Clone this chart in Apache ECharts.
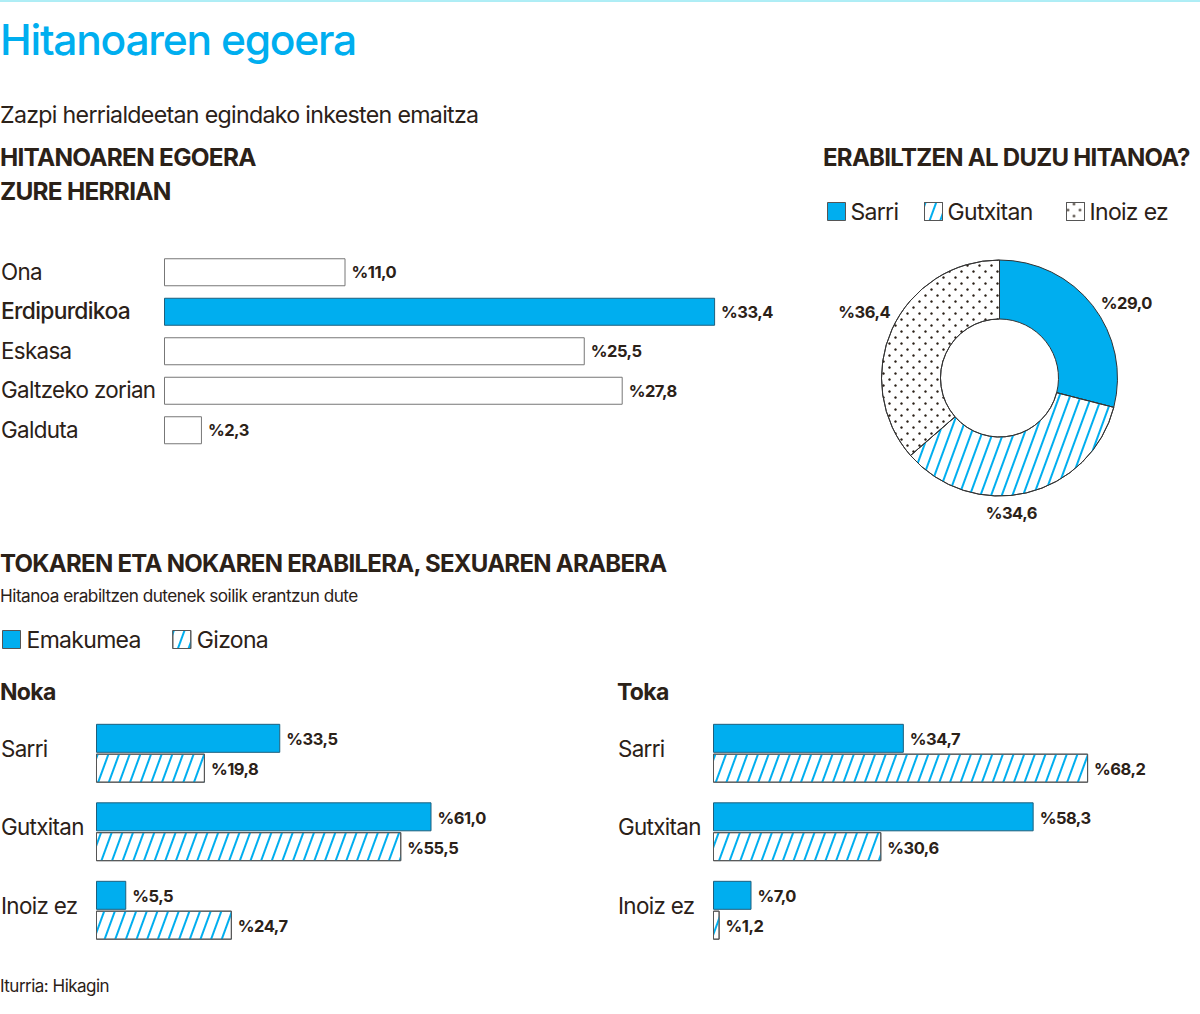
<!DOCTYPE html>
<html>
<head>
<meta charset="utf-8">
<title>Hitanoaren egoera</title>
<script src="https://cdn.jsdelivr.net/npm/echarts@6/dist/echarts.min.js"></script>
<style>
  html, body { margin: 0; padding: 0; background: #fff; }
  #main { width: 1200px; height: 1014px; }
  #main text { letter-spacing: -0.03em; }
</style>
</head>
<body>
<div id="main"></div>
<script>
// datuak
const egoeraCategories = ['Ona', 'Erdipurdikoa', 'Eskasa', 'Galtzeko zorian', 'Galduta'];
const egoeraValues = [11.0, 33.4, 25.5, 27.8, 2.3];
const egoeraHighlight = 'Erdipurdikoa';

const erabiltzenNames = ['Sarri', 'Gutxitan', 'Inoiz ez'];
const erabiltzenValues = [29.0, 34.6, 36.4];

const sexuCategories = ['Sarri', 'Gutxitan', 'Inoiz ez'];
const nokaEmakumea = [33.5, 61.0, 5.5];
const nokaGizona = [19.8, 55.5, 24.7];
const tokaEmakumea = [34.7, 58.3, 7.0];
const tokaGizona = [68.2, 30.6, 1.2];

const BLUE = '#00aeef';
const DARK = '#2b2118';
const FONT = 'Inter';

const hatch = {
    symbol: 'rect',
    symbolSize: 1,
    dashArrayX: [1, 0],
    dashArrayY: [1.3, 7.5],
    rotation: -1.22,
    color: BLUE
};
const dots = {
    symbol: 'circle',
    symbolSize: 0.85,
    dashArrayX: [[3, 9], [0, 6, 3, 3]],
    dashArrayY: [3, 3],
    rotation: 0,
    color: DARK
};

const pct = v => '%' + v.toFixed(1).replace('.', ',');

function text(t, left, top, size, weight, color) {
    return {
        text: t, left, top, padding: 0,
        textStyle: { fontFamily: FONT, fontSize: size, fontWeight: weight, color: color || DARK }
    };
}

function valueLabel(dy) {
    return {
        show: true, position: 'right', distance: 6, offset: [0, dy], formatter: p => pct(p.value),
        fontFamily: FONT, fontSize: 16.5, fontWeight: 700, color: DARK
    };
}

// rich estiloa: behealdeko padding-ak etiketa gorantz mugitzen du
function catAxis(idx, data, margin, bottomPad, boldName) {
    return {
        gridIndex: idx, type: 'category', data, inverse: true,
        axisLine: { show: false }, axisTick: { show: false },
        axisLabel: {
            align: 'left', margin, interval: 0,
            formatter: v => (v === boldName ? '{b|' : '{a|') + v + '}',
            rich: {
                a: { fontFamily: FONT, fontSize: 22.4, color: DARK, padding: [0, 0, bottomPad, 0] },
                b: { fontFamily: FONT, fontSize: 22.8, fontWeight: 500, color: DARK, padding: [0, 0, bottomPad, 0] }
            }
        }
    };
}

function valAxis(idx, max) {
    return { gridIndex: idx, type: 'value', min: 0, max, show: false, splitLine: { show: false } };
}

function sexuSeries(idx, emakumea, gizona) {
    return [{
        name: 'Emakumea', type: 'bar', xAxisIndex: idx, yAxisIndex: idx,
        data: emakumea, barWidth: 29, barGap: '3%',
        itemStyle: { color: BLUE, borderColor: '#1d5f7d', borderWidth: 1 },
        label: valueLabel(1)
    }, {
        name: 'Gizona', type: 'bar', xAxisIndex: idx, yAxisIndex: idx,
        data: gizona, barWidth: 29,
        itemStyle: { color: '#fff', borderColor: '#555', borderWidth: 1, decal: hatch },
        label: valueLabel(1)
    }];
}

const legendBase = {
    orient: 'horizontal', icon: 'rect', itemWidth: 18, itemHeight: 18, selectedMode: false, padding: 0,
    itemStyle: { borderColor: '#555', borderWidth: 1 },
    textStyle: { fontFamily: FONT, fontSize: 23, color: DARK }
};
const erabiltzenLegendLeft = [827, 924, 1066];

// svg: letra-tartea CSS bidez estutzeko
const chart = echarts.init(document.getElementById('main'), null, { renderer: 'svg' });
chart.setOption({
    animation: false,
    backgroundColor: '#fff',
    title: [
        text('Hitanoaren egoera', 0, 18, 42.6, 500, BLUE),
        text('Zazpi herrialdeetan egindako inkesten emaitza', 0, 103, 23.2, 400),
        text('HITANOAREN EGOERA', 0, 145, 24.4, 700),
        text('ZURE HERRIAN', 0, 179, 24.4, 700),
        text('ERABILTZEN AL DUZU HITANOA?', 823, 145, 24, 700),
        text('TOKAREN ETA NOKAREN ERABILERA, SEXUAREN ARABERA', 0, 551, 24, 700),
        text('Hitanoa erabiltzen dutenek soilik erantzun dute', 0, 587, 17.2, 400),
        text('Noka', 0, 680, 23, 700),
        text('Toka', 617, 680, 23, 700),
        text('Iturria: Hikagin', 0, 977, 17, 400)
    ],
    graphic: [{
        type: 'line', shape: { x1: 0, y1: 1, x2: 1200, y2: 1 },
        style: { stroke: '#5fdcec', lineWidth: 1 }
    }],
    legend: [
        ...erabiltzenNames.map((n, i) =>
            Object.assign({}, legendBase, { data: [n], left: erabiltzenLegendLeft[i], top: 200 })),
        Object.assign({}, legendBase, { data: ['Emakumea', 'Gizona'], left: 2, top: 628, itemGap: 26,
            textStyle: { fontFamily: FONT, fontSize: 23, color: DARK, padding: [0, 0, 0, 1] } })
    ],
    grid: [
        { left: 164, top: 252.5, width: 660, height: 197.5, outerBoundsMode: 'none' },
        { left: 96, top: 714, width: 440, height: 235.5, outerBoundsMode: 'none' },
        { left: 713, top: 714, width: 440, height: 235.5, outerBoundsMode: 'none' }
    ],
    xAxis: [valAxis(0, 40), valAxis(1, 80), valAxis(2, 80)],
    yAxis: [
        catAxis(0, egoeraCategories, 163, 2, egoeraHighlight),
        catAxis(1, sexuCategories, 95, 10),
        catAxis(2, sexuCategories, 95, 10)
    ],
    series: [{
        name: 'Egoera', type: 'bar', xAxisIndex: 0, yAxisIndex: 0, barWidth: 28,
        data: egoeraValues.map((v, i) => ({
            value: v,
            itemStyle: egoeraCategories[i] === egoeraHighlight
                ? { color: BLUE, borderColor: '#1d5f7d', borderWidth: 1 }
                : { color: '#fff', borderColor: '#777', borderWidth: 1 }
        })),
        label: valueLabel(0)
    },
    ...sexuSeries(1, nokaEmakumea, nokaGizona),
    ...sexuSeries(2, tokaEmakumea, tokaGizona),
    {
        name: 'Erabiltzen', type: 'pie', center: [999.5, 378], radius: [59, 118],
        startAngle: 90, clockwise: true,
        data: erabiltzenNames.map((n, i) => ({
            name: n, value: erabiltzenValues[i],
            itemStyle: [
                { color: BLUE },
                { color: '#fff', decal: hatch },
                { color: '#fff', decal: dots }
            ][i]
        })),
        itemStyle: { borderColor: '#333', borderWidth: 1 },
        label: {
            show: true, position: 'outside', formatter: p => pct(p.value),
            fontFamily: FONT, fontSize: 16.5, fontWeight: 700, color: DARK
        },
        labelLine: { show: false, length: 0, length2: 0 },
        // etiketak erreferentziako tokira
        labelLayout: p => ({ dx: [3, -46, 3][p.dataIndex], dy: [-3, 20, -17][p.dataIndex] })
    }]
});
</script>
</body>
</html>
